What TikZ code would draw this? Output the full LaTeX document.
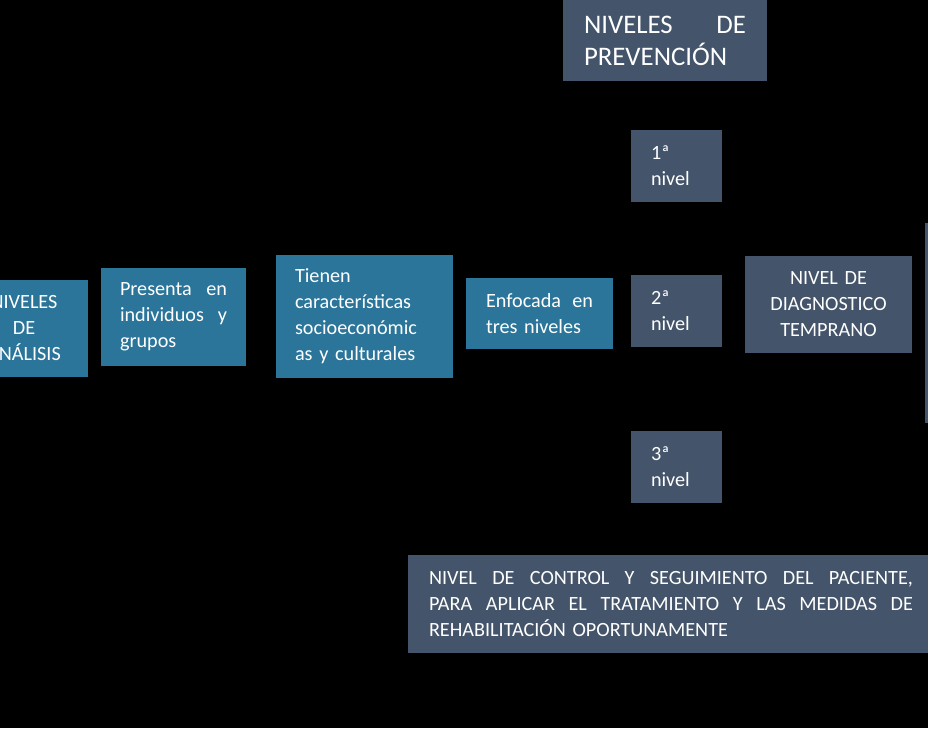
\documentclass[tikz,border=0pt]{standalone}
\usepackage{fontspec}
\setmainfont{Carlito}
\definecolor{tealbox}{HTML}{2A7599}
\definecolor{slatebox}{HTML}{44546A}
\newcommand\jline[1]{\leavevmode\hbox to\hsize{#1}}
\begin{document}
\begin{tikzpicture}[x=1pt,y=-1pt,
  every node/.style={text=white, font=\fontsize{20.2}{26}\selectfont},
  basebox/.style={rectangle, inner ysep=0pt, outer sep=0pt, align=left},
  tbox/.style={basebox, fill=tealbox},
  sbox/.style={basebox, fill=slatebox}]
\useasboundingbox (0,0) rectangle (928,728);
\fill[black] (0,0) rectangle (928,728);
\clip (0,0) rectangle (928,728);

\node[tbox, minimum width=128pt, minimum height=97pt, text width=90pt, inner xsep=19pt, align=center] (analisis) at (24,328.5) {NIVELES\\DE\\ANÁLISIS};

\node[tbox, minimum height=98pt, text width=107pt, inner xsep=19pt] (presenta) at (173.5,317)
 {\jline{Presenta\hfill en}\\\jline{individuos\hfill y}\\grupos};

\node[tbox, minimum height=123pt, text width=139pt, inner xsep=19pt] (tienen) at (364.5,316.5)
 {Tienen\\características\\socioeconómic\\as y culturales};

\node[tbox, minimum height=71pt, text width=107pt, inner xsep=20pt] (enfocada) at (539.5,313.5)
 {\jline{Enfocada\hfill en}\\tres niveles};

\node[sbox, minimum height=72pt, text width=51pt, inner xsep=20pt] (n1) at (676.5,166)
 {1ª\\nivel};
\node[sbox, minimum height=72pt, text width=51pt, inner xsep=20pt] (n2) at (676.5,311)
 {2ª\\nivel};
\node[sbox, minimum height=72pt, text width=51pt, inner xsep=20pt] (n3) at (676.5,467)
 {3ª\\nivel};

\node[sbox, minimum height=97pt, text width=147pt, inner xsep=10pt, align=center] (diag) at (828.5,304.5)
 {NIVEL DE\\DIAGNOSTICO\\TEMPRANO};

\node[sbox, minimum width=180pt, minimum height=200pt, anchor=north west] (right) at (925,223) {};

\node[sbox, minimum height=81pt, text width=162pt, inner xsep=21pt, font=\fontsize{26.8}{32}\selectfont] (titulo) at (665,40.5)
 {\jline{NIVELES\hfill DE}\\PREVENCIÓN};

\node[sbox, minimum height=98pt, text width=484pt, inner xsep=21pt] (control) at (671,604)
 {\jline{NIVEL\hfill DE\hfill CONTROL\hfill Y\hfill SEGUIMIENTO\hfill DEL\hfill PACIENTE,}\\
  \jline{PARA\hfill APLICAR\hfill EL\hfill TRATAMIENTO\hfill Y\hfill LAS\hfill MEDIDAS\hfill DE}\\
  REHABILITACIÓN OPORTUNAMENTE};
\end{tikzpicture}
\end{document}
